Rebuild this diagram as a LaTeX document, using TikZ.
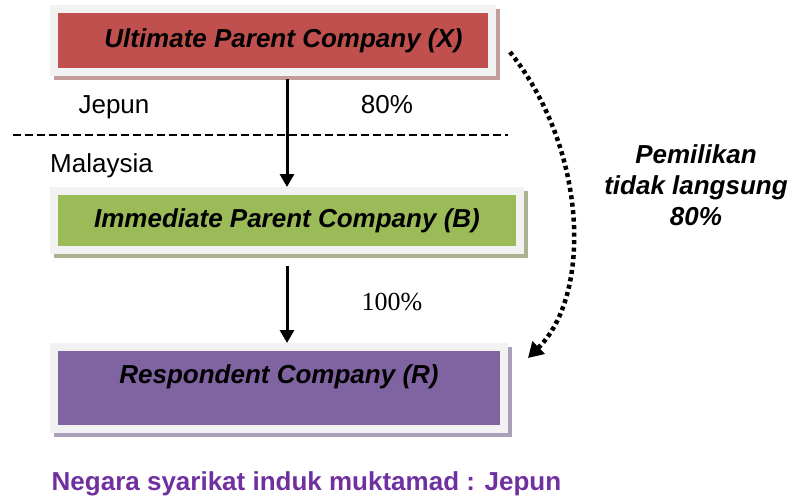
\documentclass[tikz,border=0pt]{standalone}
\usepackage{fontspec}
\setmainfont{Liberation Sans}
\newfontfamily\serifnum{Liberation Serif}
\usepackage{tikz}
\usetikzlibrary{arrows.meta, positioning, calc}
\tikzset{
  company/.style = {draw=frameGrey, line width=8pt, fill=#1, inner sep=0pt, outer sep=4pt, align=center,
                    font=\fontsize{26}{31}\selectfont\bfseries\itshape},
  shadowed/.style = {preaction={draw=#1, line width=8pt, transform canvas={xshift=4pt, yshift=-4pt}}},
  text nudge/.style = {execute at begin node={\hspace*{#1}}},
  arrow/.style = {-{Triangle[width=14pt, length=13pt]}, line width=3pt}
}

\begin{document}
\begin{tikzpicture}[x=1pt, y=-1pt]
  \definecolor{frameGrey}{HTML}{F2F2F2}
  \definecolor{boxRed}{HTML}{C0504D}
  \definecolor{boxGreen}{HTML}{9BBB59}
  \definecolor{boxPurple}{HTML}{8064A2}
  \definecolor{shadowRed}{HTML}{C49C9C}
  \definecolor{shadowGreen}{HTML}{A9B392}
  \definecolor{shadowPurple}{HTML}{ABA0BB}
  \definecolor{countryPurple}{HTML}{7030A0}
  \tikzset{
    plainText/.style={font=\fontsize{26}{31}\selectfont, anchor=base},
    indirectText/.style={font=\fontsize{26}{31}\selectfont\bfseries\itshape, align=center},
    border/.style={line width=1.8pt, dash pattern=on 8pt off 4pt},
    indirectArrow/.style={-{Triangle[width=17pt, length=15pt]}, line width=4.5pt, dash pattern=on 4pt off 3.5pt}
  }

  \useasboundingbox (0,0) rectangle (795,498);

  % company boxes
  \node[company=boxRed, shadowed=shadowRed, text nudge=21pt, minimum width=438pt, minimum height=63pt] (ultimate) at (273,40.5) {Ultimate Parent Company (X)};
  \node[company=boxGreen, shadowed=shadowGreen, minimum width=466pt, minimum height=59pt] (immediate) at (287,220.5) {Immediate Parent Company (B)};
  \node[company=boxPurple, shadowed=shadowPurple, minimum width=450pt, minimum height=82pt, text depth=28pt] (respondent) at (279,388) {Respondent Company (R)};

  % border Jepun / Malaysia
  \coordinate (borderL) at (13,135);
  \coordinate (borderR) at (508,135);
  \draw[border] (borderL) -- (borderR);

  \node[plainText] (japan) at (114,113) {Jepun};
  \node[plainText] (share80) at (387,113) {80\%};
  \node[plainText] (malaysia) at (101.5,172) {Malaysia};
  \node[plainText, font=\serifnum\fontsize{26}{31}\selectfont] (share100) at (392,310) {100\%};

  % direct ownership
  \draw[arrow, shorten <=3pt] (ultimate.south -| immediate.north) -- (immediate.north);
  \draw[arrow, shorten <=12pt] (immediate.south) -- (respondent.north -| immediate.south);

  % indirect ownership
  \coordinate (indirStart) at (510,52);
  \coordinate (indirEnd) at (528,358);
  \draw[indirectArrow] (indirStart) .. controls (588,150) and (592,295) .. (indirEnd);
  \node[indirectText] (indirect) at (696,185) {Pemilikan\\tidak langsung\\80\%};

  \node[plainText, font=\fontsize{26}{31}\selectfont\bfseries, text=countryPurple] (country) at (306.5,490) {Negara syarikat induk muktamad : Jepun};
\end{tikzpicture}
\end{document}
